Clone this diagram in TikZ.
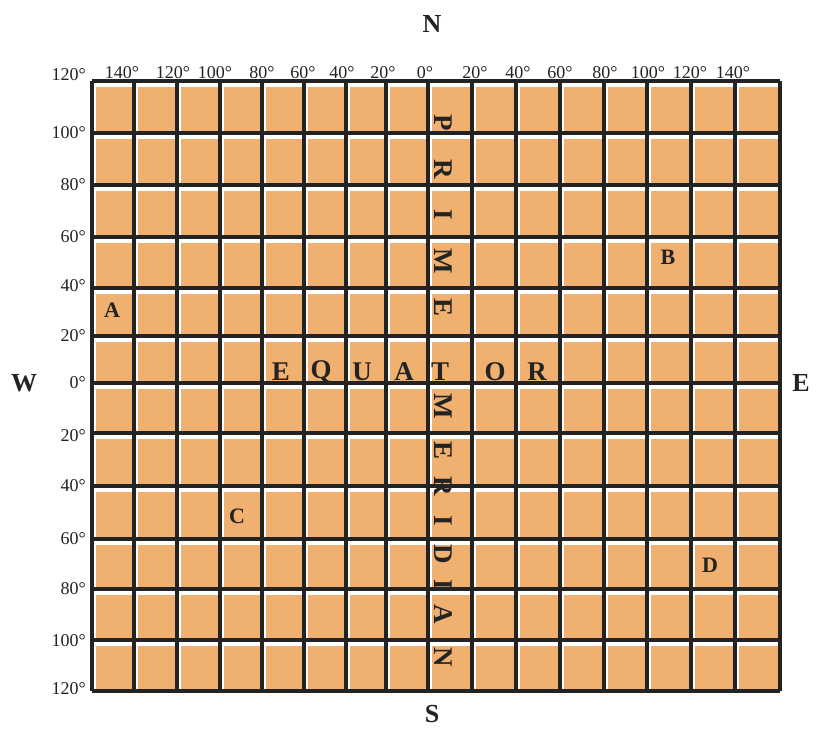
\documentclass[tikz,border=0pt]{standalone}
\usepackage{fontspec}
\setmainfont{Liberation Serif}
\definecolor{cellorange}{RGB}{240,176,112}
\definecolor{gridink}{RGB}{35,35,35}
\begin{document}
\begin{tikzpicture}[x=1pt,y=-1pt,
  deglabel/.style={font=\fontsize{18}{18}\selectfont, inner sep=0pt, text=gridink},
  compass/.style={font=\fontsize{26}{26}\selectfont\bfseries, inner sep=0pt, text=gridink},
  bigletter/.style={font=\fontsize{27}{27}\selectfont\bfseries, inner sep=0pt, text=gridink},
  vletter/.style={bigletter, rotate=-90},
  pointletter/.style={font=\fontsize{22}{22}\selectfont\bfseries, inner sep=0pt, text=gridink},
  cellfill/.style={fill=cellorange},
  gridline/.style={draw=gridink, line width=3.4pt}]
\useasboundingbox (0,0) rectangle (816,729);
\fill[white] (0,0) rectangle (816,729);
% cells
\foreach \xa/\xb in {92/134,134/177,177/220,220/262,262/304,304/346,346/386,386/428,428/472,472/516,516/560,560/604,604/647,647/691,691/735,735/780}{
  \foreach \ya/\yb in {81/133,133/185,185/237,237/288,288/336,336/383,383/433,433/486,486/539,539/589,589/640,640/691}{
    \fill[cellfill] ({\xa+3.5},{\ya+5.5}) rectangle ({\xb-2.5},{\yb-2.5});
  }
}
% grid lines
\foreach \x in {92,134,177,220,262,304,346,386,428,472,516,560,604,647,691,735,780}{
  \draw[gridline] (\x,81) -- (\x,691);
}
\foreach \y in {81,133,185,237,288,336,383,433,486,539,589,640,691}{
  \draw[gridline] (92,\y) -- (780,\y);
}
% top longitude labels
\foreach \x/\t [count=\k] in {122/140,173/120,215/100,262/80,303/60,342/40,383/20,425/0,475/20,518/40,560/60,605/80,648/100,690/120,733/140}{
  \node[deglabel, anchor=south] (lon\k) at (\x,79) {\t°};
}
% left latitude labels
\foreach \y/\t [count=\j] in {75/120,133/100,185/80,237/60,286/40,336/20,383/0,436/20,486/40,539/60,589/80,641/100,689/120}{
  \node[deglabel, anchor=east] (lat\j) at (86,\y) {\t°};
}
% compass
\node[compass] (north) at (432,24) {N};
\node[compass] (south) at (432,714) {S};
\node[compass] (west) at (24,383) {W};
\node[compass] (east) at (801,383) {E};
% equator
\node[bigletter] (eqE) at (281,372) {E};
\node[bigletter] (eqQ) at (321,372) {Q};
\node[bigletter] (eqU) at (362,372) {U};
\node[bigletter] (eqA) at (404,372) {A};
\node[bigletter] (eqT) at (440,372) {T};
\node[bigletter] (eqO) at (495,372) {O};
\node[bigletter] (eqR) at (537,372) {R};
% prime meridian
\node[vletter] (pmP) at (443,123) {P};
\node[vletter] (pmR) at (443,169) {R};
\node[vletter] (pmI) at (443,215) {I};
\node[vletter] (pmM) at (443,261) {M};
\node[vletter] (pmE) at (443,307) {E};
\node[vletter] (mdM) at (443,406) {M};
\node[vletter] (mdE) at (443,450) {E};
\node[vletter] (mdR) at (443,486) {R};
\node[vletter] (mdI) at (443,521) {I};
\node[vletter] (mdD) at (443,554) {D};
\node[vletter] (mdII) at (443,585) {I};
\node[vletter] (mdA) at (443,614) {A};
\node[vletter] (mdN) at (443,657) {N};
% points
\node[pointletter] (ptA) at (112,310) {A};
\node[pointletter] (ptB) at (668,257) {B};
\node[pointletter] (ptC) at (237,516) {C};
\node[pointletter] (ptD) at (710,565) {D};
\end{tikzpicture}
\end{document}
